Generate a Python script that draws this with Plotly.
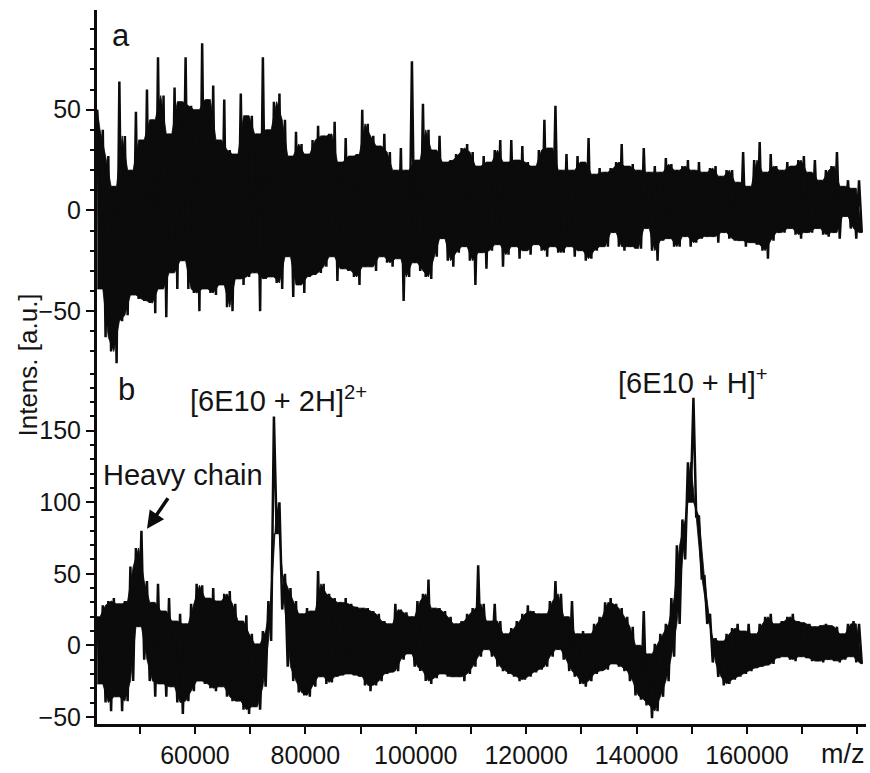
import plotly.graph_objects as go
from plotly.subplots import make_subplots

MZ_START = 42300
MZ_STEP = 1000

# Panel a: local maxima / minima of the signal
a_hi = [50, 40, 27, 12, 64, 37, 20, 49, 35, 60,
        45, 76, 57, 38, 61, 54, 76, 52, 50, 83,
        55, 62, 35, 55, 30, 28, 58, 47, 47, 38,
        76, 40, 54, 58, 45, 27, 39, 33, 28, 35,
        42, 37, 38, 44, 24, 36, 27, 28, 50, 43,
        37, 32, 38, 29, 20, 31, 20, 74, 25, 53,
        40, 30, 37, 24, 25, 28, 31, 33, 29, 22,
        27, 24, 30, 35, 24, 35, 25, 32, 24, 22,
        30, 45, 31, 52, 20, 28, 20, 27, 24, 36,
        18, 21, 19, 21, 24, 33, 22, 23, 20, 31,
        19, 22, 19, 26, 23, 20, 22, 25, 20, 24,
        19, 21, 22, 17, 20, 20, 14, 29, 12, 25,
        34, 19, 28, 22, 20, 24, 22, 25, 27, 19,
        25, 15, 20, 22, 29, 12, 15, 11, 15]
a_lo = [-39, -63, -70, -76, -55, -52, -42, -44, -45, -46,
        -51, -39, -53, -31, -39, -25, -39, -41, -50, -39,
        -41, -42, -37, -48, -50, -34, -37, -33, -31, -50,
        -34, -33, -36, -39, -23, -43, -37, -41, -33, -32,
        -31, -28, -23, -35, -29, -30, -33, -37, -28, -28,
        -30, -23, -26, -28, -24, -45, -33, -26, -30, -33,
        -34, -23, -14, -25, -28, -21, -18, -25, -37, -21,
        -29, -20, -17, -28, -22, -18, -24, -20, -22, -17,
        -20, -23, -18, -21, -21, -18, -23, -20, -25, -24,
        -20, -18, -18, -11, -18, -20, -18, -19, -19, -9,
        -20, -25, -15, -14, -18, -18, -13, -18, -16, -14,
        -13, -13, -16, -11, -14, -15, -15, -18, -16, -17,
        -20, -24, -15, -11, -11, -9, -12, -14, -11, -11,
        -9, -12, -13, -11, -14, -3, -9, -14, -11]

# Panel b: local maxima / minima of the signal
b_hi = [20, 28, 31, 33, 29, 31, 55, 68, 80, 45,
        30, 43, 24, 33, 17, 22, 15, 29, 43, 42,
        33, 40, 31, 36, 38, 29, 17, 21, 8, 1,
        10, 31, 160, 100, 50, 40, 31, 22, 26, 24,
        52, 43, 36, 33, 30, 33, 29, 27, 26, 26,
        24, 22, 17, 15, 29, 25, 23, 20, 31, 36,
        46, 26, 26, 24, 20, 15, 17, 22, 26, 56,
        29, 17, 29, 17, 8, 12, 17, 22, 28, 24,
        22, 22, 31, 45, 36, 20, 31, 8, 10, 8,
        15, 20, 30, 33, 29, 26, 20, 13, 0, 24,
        -6, 1, 8, 15, 33, 70, 88, 128, 173, 90,
        48, 22, 5, 3, 8, 12, 15, 10, 15, 8,
        15, 20, 22, 15, 17, 20, 22, 17, 16, 15,
        13, 14, 15, 14, 13, 8, 15, 17, 15]
b_lo = [-27, -40, -46, -36, -46, -39, -25, 13, -10, -25,
        -36, -27, -36, -29, -40, -48, -39, -32, -25, -27,
        -30, -32, -29, -36, -39, -39, -45, -48, -43, -45,
        -29, 3, 78, 25, -15, -25, -33, -35, -36, -29,
        -22, -27, -26, -22, -21, -20, -21, -22, -28, -32,
        -28, -25, -20, -19, -18, -10, -6, -15, -18, -25,
        -27, -23, -20, -22, -22, -22, -25, -20, -15, -8,
        -3, -8, -15, -18, -20, -22, -25, -24, -22, -19,
        -17, -15, -8, -3, -10, -18, -22, -27, -29, -25,
        -20, -18, -17, -13, -15, -18, -25, -35, -38, -42,
        -51, -46, -36, -25, -8, 15, 60, 100, 90, 47,
        15, -12, -22, -28, -27, -24, -22, -20, -18, -16,
        -15, -14, -13, -9, -8, -10, -11, -8, -9, -11,
        -11, -12, -10, -11, -12, -10, -8, -12, -13]

x_ticks = [60000, 80000, 100000, 120000, 140000, 160000]

X_RANGE = [42250, 181560]
A_RANGE = [-76, 99.5]
B_RANGE = [-55, 197]


def positions(n):
    x_up = [MZ_START + i * MZ_STEP for i in range(n)]
    x_dn = [MZ_START + i * MZ_STEP + MZ_STEP / 2 for i in range(n)]
    return x_up, x_dn


def zigzag(hi, lo):
    x_up, x_dn = positions(len(hi))
    xs, ys = [], []
    for xu, xd, h, l in zip(x_up, x_dn, hi, lo):
        xs += [xu, xd]
        ys += [h, l]
    return xs, ys


def dense_core(hi, lo):
    """Region that the densely oscillating signal paints solid: between two
    neighbouring maxima the trace fills up to the lower of them, and between two
    neighbouring minima down to the higher of them."""
    n = len(hi)
    x_up, x_dn = positions(n)
    top_x = x_dn[:-1]
    top_y = [min(hi[i], hi[i + 1]) for i in range(n - 1)]
    bot_x = x_up[1:]
    bot_y = [max(lo[i - 1], lo[i]) for i in range(1, n)]
    return ([x_up[0]] + top_x + [x_dn[-1]] + bot_x[::-1] + [x_up[0]],
            [hi[0]] + top_y + [lo[-1]] + bot_y[::-1] + [lo[0]])


FONT = "Liberation Sans, Arial, Helvetica, sans-serif"
INK = "#0b0b0b"
TXT = "#141414"

fig = make_subplots(rows=2, cols=1, shared_xaxes=True, vertical_spacing=0)

for row, (hi, lo) in ((1, (a_hi, a_lo)), (2, (b_hi, b_lo))):
    cx, cy = dense_core(hi, lo)
    fig.add_trace(go.Scatter(x=cx, y=cy, mode="lines", fill="toself", fillcolor=INK,
                             line=dict(color=INK, width=0.8), hoverinfo="skip",
                             showlegend=False), row=row, col=1)
    zx, zy = zigzag(hi, lo)
    fig.add_trace(go.Scatter(x=zx, y=zy, mode="lines", line=dict(color=INK, width=2.5),
                             hoverinfo="skip", showlegend=False), row=row, col=1)

W, H = 870, 773
L, R, T, B = 97, 4, 10, 46
PW, PH = W - L - R, H - T - B
split = 362 / PH

yax_common = dict(showgrid=False, zeroline=False, showline=True, linecolor=INK, linewidth=3,
                  tickmode="linear", tick0=0, dtick=50,
                  ticks="outside", ticklen=8, tickwidth=2, tickcolor=INK,
                  tickfont=dict(family=FONT, size=25, color=TXT),
                  minor=dict(dtick=10, tick0=0, ticks="outside", ticklen=4, tickwidth=1.5,
                             tickcolor=INK, showgrid=False))

fig.update_layout(
    width=W, height=H,
    margin=dict(l=L, r=R, t=T, b=B),
    paper_bgcolor="white", plot_bgcolor="white",
    font=dict(family=FONT, color=TXT),
    xaxis=dict(range=X_RANGE, showgrid=False, zeroline=False, showline=False,
               showticklabels=False, ticks=""),
    xaxis2=dict(range=X_RANGE, showgrid=False, zeroline=False, showline=True,
                linecolor=INK, linewidth=3, ticks="outside", ticklen=7, tickwidth=2,
                tickcolor=INK, tickvals=x_ticks, tickformat="d",
                minor=dict(dtick=10000, tick0=0, ticks="outside", ticklen=7, tickwidth=2,
                           tickcolor=INK, showgrid=False),
                tickfont=dict(family=FONT, size=25, color=TXT)),
    yaxis=dict(domain=[split, 1], range=A_RANGE, **yax_common),
    yaxis2=dict(domain=[0, split], range=B_RANGE, **yax_common),
)


def px(xp):
    return (xp - L) / PW


def py(yp):
    return (H - B - yp) / PH


ann = [
    dict(text="a", x=px(121), y=py(36), size=31, xanchor="center"),
    dict(text="b", x=px(126), y=py(391), size=31, xanchor="center"),
    dict(text="[6E10 + 2H]<sup>2+</sup>", x=px(188), y=py(401), size=29, xanchor="left"),
    dict(text="[6E10 + H]<sup>+</sup>", x=px(616), y=py(383), size=29, xanchor="left"),
    dict(text="Heavy chain", x=px(101), y=py(477), size=29, xanchor="left"),
    dict(text="m/z", x=px(843), y=py(757), size=27, xanchor="center"),
]
for a in ann:
    fig.add_annotation(text=a["text"], x=a["x"], y=a["y"], xref="paper", yref="paper",
                       xanchor=a["xanchor"], yanchor="middle", showarrow=False,
                       font=dict(family=FONT, size=a["size"], color=TXT))

fig.add_annotation(text="Intens. [a.u.]", x=px(28), y=py(367), xref="paper", yref="paper",
                   textangle=-90, showarrow=False, xanchor="center", yanchor="middle",
                   font=dict(family=FONT, size=26, color=TXT))

# arrow pointing at the heavy chain peak
fig.add_annotation(text="", x=px(147), y=py(531), xref="paper", yref="paper",
                   ax=22, ay=-32, showarrow=True, arrowhead=2, arrowsize=1,
                   arrowwidth=3.5, arrowcolor=INK)

fig.write_html("out.html",
               config={"displayModeBar": False},
               post_script="document.body.style.margin='0';document.body.style.padding='0';"
                           "document.documentElement.style.overflow='hidden';")
